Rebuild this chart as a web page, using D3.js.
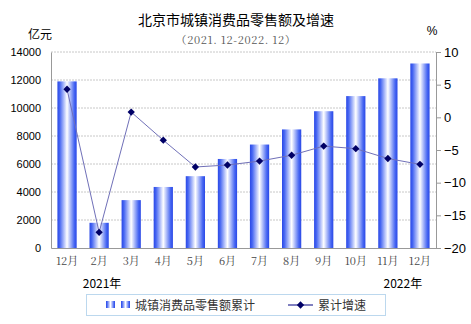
<!DOCTYPE html>
<html><head><meta charset="utf-8">
<script src="https://cdn.jsdelivr.net/npm/d3@7"></script>
<style>body{margin:0;background:#fff}svg{display:block}</style>
</head><body><div id="c"></div>
<script>
const categories = ["12月","2月","3月","4月","5月","6月","7月","8月","9月","10月","11月","12月"];
const retailValues = [11900,1800,3420,4360,5130,6360,7390,8470,9770,10850,12120,13180];
const growthValues = [4.3,-17.6,0.8,-3.5,-7.6,-7.3,-6.7,-5.8,-4.4,-4.8,-6.3,-7.2];
const leftTicks = [0,2000,4000,6000,8000,10000,12000,14000];
const rightTicks = [-20,-15,-10,-5,0,5,10];
const yearLabels = ["2021年","2022年"];
const seriesNames = ["城镇消费品零售额累计","累计增速"];

const W=471,H=324, m={l:51,r:35,t:52,b:76};
const svg=d3.select("#c").append("svg").attr("width",W).attr("height",H);
const defs=svg.append("defs");
const g=defs.append("linearGradient").attr("id","bg").attr("x1","0").attr("x2","1").attr("y1","0").attr("y2","0");
[[0,"#2a48e6"],[0.12,"#4565f2"],[0.5,"#ffffff"],[0.88,"#4565f2"],[1,"#2a48e6"]].forEach(s=>g.append("stop").attr("offset",s[0]).attr("stop-color",s[1]));

const x=d3.scaleBand().domain(d3.range(categories.length)).range([m.l,W-m.r]).paddingInner(0.4).paddingOuter(0.2);
const y=d3.scaleLinear().domain([0,14000]).range([H-m.b,m.t]);
const y2=d3.scaleLinear().domain([-20,10]).range([H-m.b,m.t]);

// grid
svg.append("g").selectAll("line").data(leftTicks.slice(1)).join("line")
 .attr("x1",m.l).attr("x2",W-m.r).attr("y1",d=>y(d)).attr("y2",d=>y(d))
 .attr("stroke","#c8c8c8").attr("stroke-dasharray","2,1").attr("stroke-width",1);

// left axis
const la=svg.append("g").attr("transform",`translate(${m.l},0)`).call(d3.axisLeft(y).tickValues(leftTicks).tickSize(0).tickPadding(10).tickFormat(d3.format("d")));
la.select(".domain").attr("stroke","#999");
la.selectAll("text").attr("font-family","Arial, Liberation Sans, sans-serif").attr("font-size",11).attr("fill","#000");

// right axis
const ra=svg.append("g").attr("transform",`translate(${W-m.r},0)`).call(d3.axisRight(y2).tickValues(rightTicks).tickSize(5).tickPadding(3));
ra.select(".domain").attr("stroke","#999");
ra.selectAll(".tick line").attr("stroke","#999");
ra.selectAll("text").attr("font-family","Arial, Liberation Sans, sans-serif").attr("font-size",13).attr("fill","#000");

// bars
svg.append("g").selectAll("rect").data(retailValues).join("rect")
 .attr("x",(d,i)=>x(i)).attr("width",x.bandwidth()).attr("y",d=>y(d)).attr("height",d=>y(0)-y(d))
 .attr("fill","url(#bg)");

// bottom axis
const ba=svg.append("g").attr("transform",`translate(0,${H-m.b})`).call(d3.axisBottom(x).tickSize(0).tickPadding(9).tickFormat(i=>categories[i]));
ba.select(".domain").attr("stroke","#999");
ba.selectAll("text").attr("font-family","'Noto Serif CJK SC', 'Noto Sans CJK SC', serif").attr("font-size",11).attr("fill","#444");

// line
const cx=i=>x(i)+x.bandwidth()/2;
svg.append("path").datum(growthValues).attr("fill","none").attr("stroke","#7070b8").attr("stroke-width",1)
 .attr("d",d3.line().x((d,i)=>cx(i)).y(d=>y2(d)));
svg.append("g").selectAll("path").data(growthValues).join("path")
 .attr("d",d3.symbol(d3.symbolDiamond2,34)()).attr("transform",(d,i)=>`translate(${cx(i)},${y2(d)})`).attr("fill","#000066");

// titles
const cjk="'Noto Sans CJK SC', sans-serif";
svg.append("text").attr("x",236).attr("y",25).attr("text-anchor","middle").attr("font-family",cjk).attr("font-size",14).attr("fill","#000").text("北京市城镇消费品零售额及增速");
svg.append("text").attr("x",236).attr("y",44).attr("text-anchor","middle").attr("font-family","'Noto Serif CJK SC', serif").attr("font-size",11).attr("letter-spacing",0.6).attr("fill","#555").text("（2021. 12-2022. 12）");
svg.append("text").attr("x",40).attr("y",39).attr("text-anchor","middle").attr("font-family",cjk).attr("font-size",12).attr("fill","#000").text("亿元");
svg.append("text").attr("x",432).attr("y",35).attr("text-anchor","middle").attr("font-family","Arial, sans-serif").attr("font-size",12).attr("fill","#000").text("%");

// year labels
svg.append("text").attr("x",cx(0)+35).attr("y",288).attr("text-anchor","middle").attr("font-family",cjk).attr("font-size",12).text(yearLabels[0]);
svg.append("text").attr("x",cx(10)+15).attr("y",288).attr("text-anchor","middle").attr("font-family",cjk).attr("font-size",12).text(yearLabels[1]);

// legend
svg.append("rect").attr("x",86.5).attr("y",294.5).attr("width",299).attr("height",21).attr("fill","#fff").attr("stroke","#bcd8ee");
svg.append("rect").attr("x",106).attr("y",301).attr("width",9).attr("height",7).attr("fill","url(#bg)");
svg.append("rect").attr("x",121).attr("y",301).attr("width",9).attr("height",7).attr("fill","url(#bg)");
svg.append("text").attr("x",135).attr("y",309.5).attr("font-family",cjk).attr("font-size",12).attr("fill","#333").text(seriesNames[0]);
svg.append("line").attr("x1",288).attr("x2",313).attr("y1",305).attr("y2",305).attr("stroke","#000080");
svg.append("path").attr("d",d3.symbol(d3.symbolDiamond2,34)()).attr("transform","translate(300.5,305)").attr("fill","#000066");
svg.append("text").attr("x",318).attr("y",309.5).attr("font-family",cjk).attr("font-size",12).attr("fill","#333").text(seriesNames[1]);
</script></body></html>
